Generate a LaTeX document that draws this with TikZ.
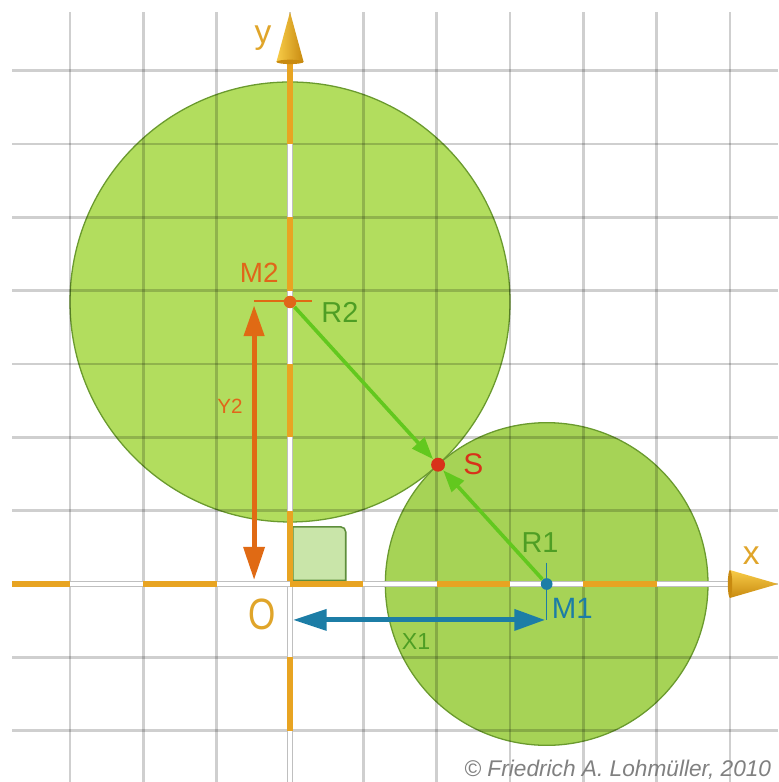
\documentclass[tikz,border=0pt]{standalone}
\usepackage{fontspec}
\setmainfont{Liberation Sans}
\usetikzlibrary{arrows.meta}
\definecolor{axisor}{HTML}{E8A422}
\definecolor{labor}{HTML}{E0A52A}
\definecolor{mtwo}{HTML}{E0661A}
\definecolor{rgreen}{HTML}{4E9E24}
\definecolor{sred}{HTML}{D8321A}
\definecolor{mblue}{HTML}{1C7DA6}
\definecolor{cone}{HTML}{A6D356}
\definecolor{ctwo}{HTML}{B2DD5E}
\definecolor{cedge}{HTML}{6A9A2E}
\definecolor{brgreen}{HTML}{62C81E}
\definecolor{yarr}{HTML}{E06A14}
\definecolor{sqfill}{HTML}{C4E3A0}
\definecolor{sqedge}{HTML}{5E8E3C}
\definecolor{conelt}{HTML}{F8CC48}
\definecolor{conedk}{HTML}{C88A10}
\tikzset{
  gridline/.style={black, opacity=0.19, line width=1.1pt},
  axbase/.style={black!25, line width=2.6pt},
  axor/.style={axisor, line width=2.4pt},
  axwh/.style={white, line width=1.5pt},
  dotnode/.style={circle, inner sep=0pt, minimum size=#1},
  radarrow/.style={brgreen, line width=1.4pt, -{Triangle[length=0.30cm,width=0.22cm]}},
  lab/.style={inner sep=0pt, font=\fontsize{#1}{#1}\selectfont},
}
\begin{document}
\begin{tikzpicture}
\useasboundingbox (-3.955,-2.700) rectangle (6.655,7.964);
\fill[white] (-3.955,-2.700) rectangle (6.655,7.964);
\coordinate (O) at (0,0);
\coordinate (M1) at (3.5,0);
\coordinate (M2) at (0,3.846);
\coordinate (S) at (2.0192,1.6272);
% circles
\filldraw[fill=ctwo, draw=cedge, line width=0.5pt] (M2) circle (3);
\filldraw[fill=cone, draw=cedge, line width=0.5pt] (M1) circle (2.2);
% grid
\foreach \x in {-3,...,6} \draw[gridline] (\x,-2.7) -- (\x,7.80);
\foreach \y in {-2,...,7} \draw[gridline] (-3.79,\y) -- (6.655,\y);
% right angle mark
\filldraw[fill=sqfill, draw=sqedge, line width=0.6pt, fill opacity=0.9]
  (0.04,0.05) -- (0.04,0.78) [rounded corners=2pt] -- (0.76,0.78) [sharp corners] -- (0.76,0.05) -- cycle;
% y axis
\draw[axbase] (0,-2.7) -- (0,7.12);
\foreach \a/\b in {-2/-1,0/1,2/3,4/5,6/7.12} \draw[axor] (0,\a) -- (0,\b);
\foreach \a/\b in {-2.7/-2,-1/0,1/2,3/4,5/6} \draw[axwh] (0,\a) -- (0,\b);
% x axis
\draw[axbase] (-3.79,0) -- (6.0,0);
\foreach \a/\b in {-3.79/-3,-2/-1,0/1,2/3,4/5} \draw[axor] (\a,0) -- (\b,0);
\foreach \a/\b in {-3/-2,-1/0,1/2,3/4,5/6} \draw[axwh] (\a,0) -- (\b,0);
% axis arrow cones
\coordinate (ytip) at (0,7.80);
\coordinate (xtip) at (6.655,0);
\shade[left color=conelt, right color=conedk] (-0.185,7.12) -- (ytip) -- (0.185,7.12) -- cycle;
\fill[conedk] (0,7.12) ellipse (0.185 and 0.03);
\shade[top color=conelt, bottom color=conedk] (6.0,0.19) -- (xtip) -- (6.0,-0.19) -- cycle;
\fill[conedk] (6.0,0) ellipse (0.03 and 0.19);
% helper lines
\coordinate (y2top) at (-0.49,3.80);
\coordinate (y2bot) at (-0.49,0.055);
\coordinate (hl) at (-0.49,3.86);
\coordinate (hr) at (0.30,3.86);
\draw[yarr, line width=0.6pt] (hl) -- (hr);
\draw[yarr, line width=1.9pt, {Triangle[length=0.42cm,width=0.27cm]}-{Triangle[length=0.45cm,width=0.28cm]}] (y2top) -- (y2bot);
\coordinate (x1l) at (0.04,-0.49);
\coordinate (x1r) at (3.48,-0.49);
\coordinate (m1low) at (3.5,-0.49);
\coordinate (m1up) at (3.5,0.29);
\draw[mblue, line width=0.6pt] (m1up) -- (m1low);
\draw[mblue, line width=1.9pt, {Triangle[length=0.46cm,width=0.28cm]}-{Triangle[length=0.42cm,width=0.28cm]}] (x1l) -- (x1r);
% dots
\node[dotnode=0.17cm, fill=mtwo] (m2dot) at (M2) {};
\node[dotnode=0.16cm, fill=mblue] (m1dot) at (M1) {};
\node[dotnode=0.19cm, fill=sred] (sdot) at (S) {};
% radius arrows
\draw[radarrow] (m2dot) -- (sdot);
\draw[radarrow] (m1dot) -- (sdot);
% labels
\node[lab=13, text=labor] (ylab) at (-0.37,7.45) {y};
\node[lab=13, text=labor] (xlab) at (6.29,0.38) {x};
\node[lab=17, text=labor, xscale=0.8] (olab) at (-0.38,-0.42) {O};
\node[lab=10.8, text=mtwo] (m2lab) at (-0.42,4.24) {M2};
\node[lab=11.2, text=rgreen] (r2lab) at (0.68,3.71) {R2};
\node[lab=8, text=mtwo] (y2lab) at (-0.82,2.43) {Y2};
\node[lab=11.6, text=sred] (slab) at (2.50,1.64) {S};
\node[lab=11.2, text=rgreen] (r1lab) at (3.41,0.57) {R1};
\node[lab=11.4, text=mblue] (m1lab) at (3.85,-0.33) {M1};
\node[lab=9, text=rgreen] (x1lab) at (1.72,-0.78) {X1};
\node[lab=8.8, text=black!50, anchor=base, inner sep=0pt] (copy) at (4.47,-2.63) {\itshape © Friedrich A. Lohmüller, 2010};
\end{tikzpicture}
\end{document}
